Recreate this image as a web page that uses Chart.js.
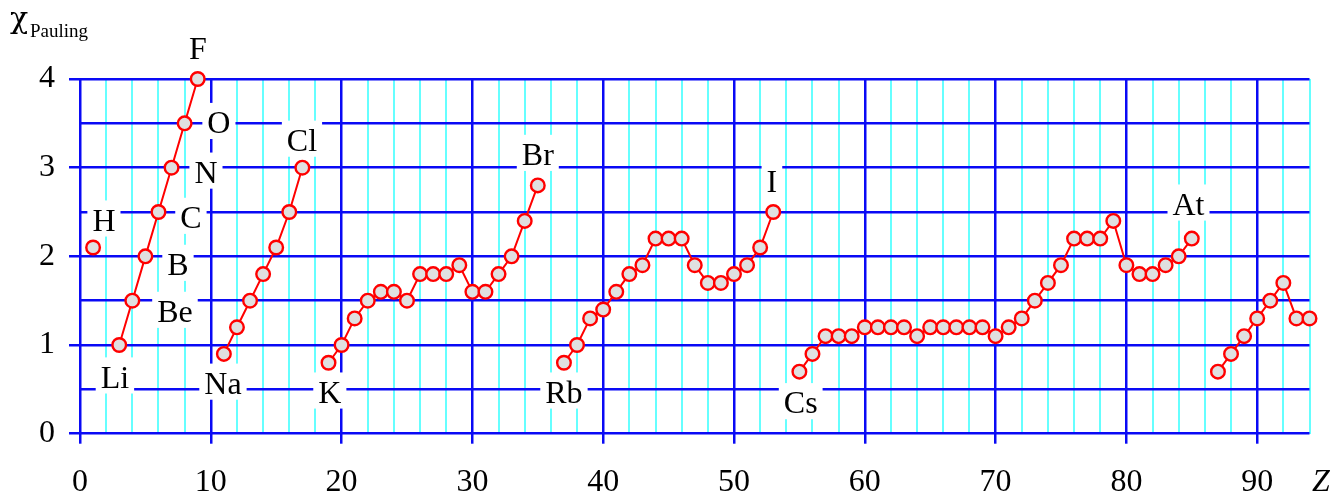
<!DOCTYPE html>
<html><head><meta charset="utf-8">
<script src="https://cdn.jsdelivr.net/npm/chart.js@4/dist/chart.umd.min.js"></script>
<style>html,body{margin:0;padding:0;background:#fff;overflow:hidden}</style>
</head><body>
<canvas id="c" width="1343" height="496" style="display:block;width:1343px;height:496px"></canvas>
<script>
// ---- data ----
const atomicNumbers = [
  1,2,3,4,5,6,7,8,9,10,11,12,13,14,15,16,17,18,19,20,
  21,22,23,24,25,26,27,28,29,30,31,32,33,34,35,36,37,38,39,40,
  41,42,43,44,45,46,47,48,49,50,51,52,53,54,55,56,57,58,59,60,
  61,62,63,64,65,66,67,68,69,70,71,72,73,74,75,76,77,78,79,80,
  81,82,83,84,85,86,87,88,89,90,91,92,93,94];
const paulingValues = [
  2.1,null,1.0,1.5,2.0,2.5,3.0,3.5,4.0,null,0.9,1.2,1.5,1.8,2.1,2.5,3.0,null,0.8,1.0,
  1.3,1.5,1.6,1.6,1.5,1.8,1.8,1.8,1.9,1.6,1.6,1.8,2.0,2.4,2.8,null,0.8,1.0,1.3,1.4,
  1.6,1.8,1.9,2.2,2.2,2.2,1.9,1.7,1.7,1.8,1.9,2.1,2.5,null,0.7,0.9,1.1,1.1,1.1,1.2,
  1.2,1.2,1.2,1.1,1.2,1.2,1.2,1.2,1.2,1.1,1.2,1.3,1.5,1.7,1.9,2.2,2.2,2.2,2.4,1.9,
  1.8,1.8,1.9,2.0,2.2,null,0.7,0.9,1.1,1.3,1.5,1.7,1.3,1.3];
const xTickLabels = ['0','10','20','30','40','50','60','70','80','90'];
const yTickLabels = ['0','1','2','3','4'];
const elementSymbols = ['H','F','O','N','C','B','Be','Li','Na','K','Cl','Br','Rb','I','Cs','At'];
const labelZ = [1.83,9.02,10.62,9.63,8.48,7.49,7.26,2.67,10.93,19.1,16.97,35.0,37.0,52.9,55.1,84.75];
const labelChi = [2.41,4.34,3.51,2.95,2.44,1.91,1.38,0.64,0.57,0.47,3.31,3.15,0.47,2.84,0.35,2.59];

// ---- styles ----
const BLUE = '#0a0af5';
const CYAN = '#66ffff';
const SERIF = "'Liberation Serif','Times New Roman',serif";
const FS = 32;

const labelPlugin = {
  id: 'elementLabels',
  beforeDatasetsDraw(chart) {
    const ctx = chart.ctx, xs = chart.scales.x, ys = chart.scales.y;
    ctx.save();
    ctx.font = FS + 'px ' + SERIF;
    ctx.textAlign = 'center';
    ctx.textBaseline = 'alphabetic';
    const items = elementSymbols.map((s, i) => {
      const cx = xs.getPixelForValue(labelZ[i]);
      const cy = ys.getPixelForValue(labelChi[i]);
      const w = ctx.measureText(s).width;
      const base = cy + FS * 0.33;
      return {s, cx, base, w};
    });
    ctx.fillStyle = '#ffffff';
    items.forEach(it => {
      ctx.fillRect(it.cx - it.w / 2 - 5, it.base - FS * 0.66 - 9, it.w + 10, FS * 0.66 + 15);
    });
    ctx.fillStyle = '#000';
    items.forEach(it => ctx.fillText(it.s, it.cx, it.base));
    ctx.restore();
  },
  afterDraw(chart) {
    const ctx = chart.ctx, xs = chart.scales.x;
    ctx.save();
    ctx.fillStyle = '#000';
    ctx.textBaseline = 'middle';
    ctx.textAlign = 'center';
    ctx.font = 'italic ' + FS + 'px ' + SERIF;
    ctx.fillText('Z', xs.right + 11.5, 483);
    ctx.textAlign = 'left';
    ctx.textBaseline = 'alphabetic';
    ctx.font = "30px 'DejaVu Serif', serif";
    ctx.fillText('χ', 10, 28);
    ctx.font = '19px ' + SERIF;
    ctx.fillText('Pauling', 30, 37);
    ctx.restore();
  }
};

new Chart(document.getElementById('c'), {
  type: 'line',
  data: {
    datasets: [{
      data: atomicNumbers.map((z, i) => ({x: z, y: paulingValues[i]})),
      borderColor: '#ff0000',
      borderWidth: 2,
      pointRadius: 6.8,
      pointBorderWidth: 2.4,
      pointBackgroundColor: '#e0e0e0',
      pointBorderColor: '#ff0000',
      spanGaps: false,
      tension: 0,
      clip: false
    }]
  },
  plugins: [labelPlugin],
  options: {
    responsive: false,
    animation: false,
    devicePixelRatio: 1,
    layout: {padding: {top: 79, right: 33.5, left: 0, bottom: 0}, autoPadding: false},
    plugins: {legend: {display: false}, tooltip: {enabled: false}},
    scales: {
      x: {
        type: 'linear', min: 0, max: 94, position: 'bottom',
        afterFit(s) { s.height = 62.3; },
        border: {display: false},
        grid: {
          z: -1,
          color: c => (c.tick && c.tick.value % 10 === 0) ? BLUE : CYAN,
          lineWidth: c => (c.tick && c.tick.value % 10 === 0) ? 2.5 : 2,
          tickLength: 10,
          tickColor: c => (c.tick && c.tick.value % 10 === 0) ? BLUE : 'rgba(0,0,0,0)',
          tickWidth: 2.5
        },
        ticks: {
          stepSize: 2, autoSkip: false, maxRotation: 0, padding: 20,
          color: '#000', font: {family: SERIF, size: FS},
          callback: v => (v % 10 === 0 && v <= 90) ? xTickLabels[v / 10] : ''
        }
      },
      y: {
        type: 'linear', min: 0, max: 4, position: 'left',
        afterFit(s) { s.width = 80; },
        border: {display: false},
        grid: {
          z: 0,
          color: BLUE,
          lineWidth: 2.5,
          tickLength: 11,
          tickColor: c => (c.tick && Number.isInteger(c.tick.value)) ? BLUE : 'rgba(0,0,0,0)',
          tickWidth: 2.5
        },
        ticks: {
          stepSize: 0.5, autoSkip: false, padding: 14,
          color: '#000', font: {family: SERIF, size: FS},
          callback: v => Number.isInteger(v) ? yTickLabels[v] : ''
        }
      }
    }
  }
});
</script>
</body></html>
